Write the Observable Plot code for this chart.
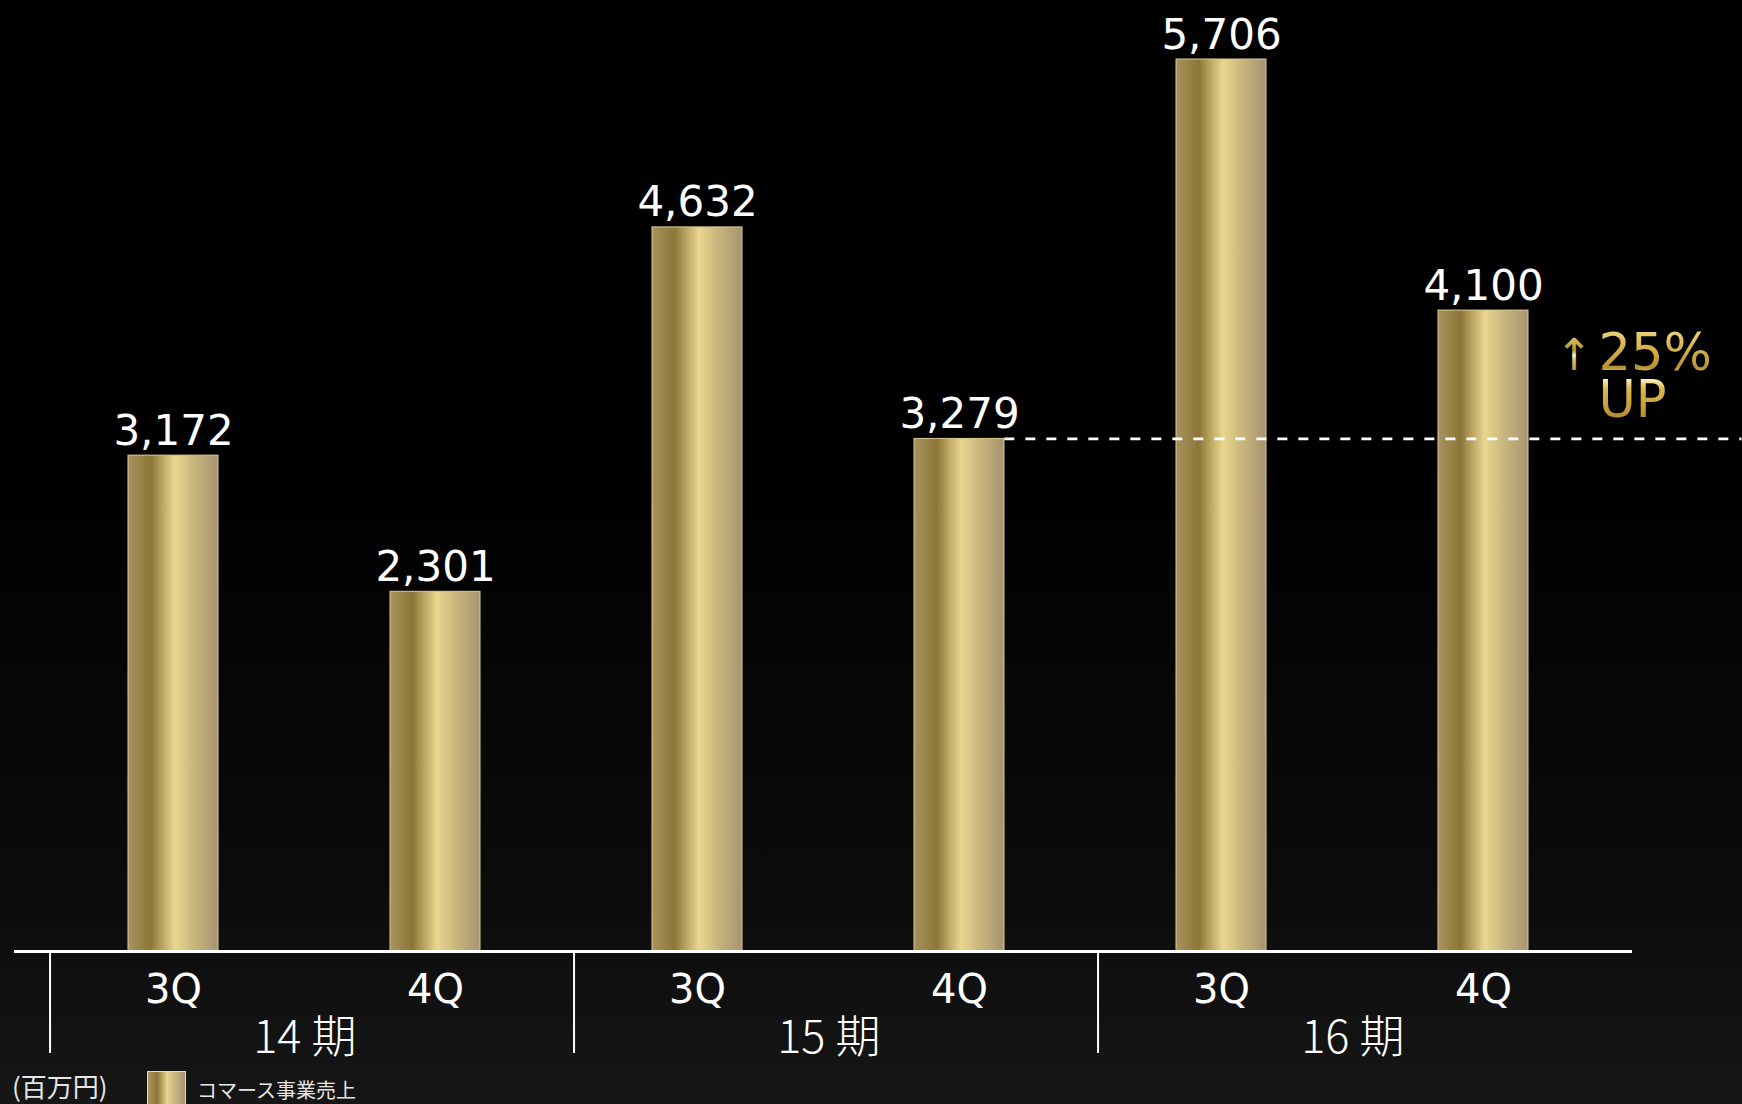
<!DOCTYPE html>
<html>
<head>
<meta charset="utf-8">
<script src="https://cdn.jsdelivr.net/npm/d3@7"></script>
<script src="https://cdn.jsdelivr.net/npm/@observablehq/plot@0.6"></script>
<style>
  html, body { margin: 0; padding: 0; }
  body {
    width: 1742px; height: 1104px; overflow: hidden;
    background: linear-gradient(to bottom, #000 0%, #000 42%, #0b0b0b 80%, #161616 100%);
  }
  #chart svg { display: block; }
  #legend { position: relative; width: 1742px; height: 42px; color: #e6e6e6; font-family: "Noto Sans CJK JP", sans-serif; }
  #legend .unit { position: absolute; left: 12px; top: 7px; font-size: 26px; line-height: 34px; }
  #legend .swatch { position: absolute; left: 147px; top: 9px; width: 37px; height: 40px; border: 1px solid #e8dcb0;
    background: linear-gradient(to right, #a8935f 0%, #8c7637 25%, #ead68f 52%, #cbb77e 72%, #a69470 100%); }
  #legend .name { position: absolute; left: 197px; top: 14px; font-size: 20px; line-height: 28px; }
</style>
</head>
<body>
<div id="chart"></div>
<div id="legend"></div>
<script>
// ---- data ----
const periods = ["14期", "15期", "16期"];
const periodLabels = ["14 期", "15 期", "16 期"];
const quarters = ["3Q", "4Q"];
const sales = [3172, 2301, 4632, 3279, 5706, 4100];
const baseKey = "15期 4Q";
const baseValue = 3279;
const growthArrow = "↑";
const growthLines = ["25%", "UP"];
const unitLabel = "(百万円)";
const seriesName = "コマース事業売上";

// ---- table ----
const rows = periods.flatMap((p, i) => quarters.map((q, j) => ({
  key: `${p} ${q}`, period: p, quarter: q, value: sales[i * quarters.length + j]
})));
const keys = rows.map(d => d.key);
const groups = periods.map((p, i) => ({ first: `${p} ${quarters[0]}`, label: periodLabels[i] }));

// ---- layout ----
const W = 1742, H = 1062, ML = 40, MR = 126, MT = 59, MB = 111;
const pIn = 0.656, pOut = pIn / 2;
const step = (W - ML - MR) / (keys.length - pIn + 2 * pOut);
const bw = step * (1 - pIn);
const baseIdx = keys.indexOf(baseKey);
const baseBandEnd = ML + step * (pOut + baseIdx) + bw;

const fmt = d3.format(",");
const numFont = "DejaVu Sans, Verdana, sans-serif";

const chart = Plot.plot({
  width: W, height: H,
  marginLeft: ML, marginRight: MR, marginTop: MT, marginBottom: MB,
  style: { background: "transparent", color: "white", overflow: "visible" },
  x: { domain: keys, paddingInner: pIn, paddingOuter: pOut, axis: null },
  y: { domain: [0, d3.max(sales)], axis: null },
  marks: [
    Plot.barY(rows, { x: "key", y: "value", fill: "url(#barGold)", stroke: "#dccb96", strokeWidth: 1 }),
    Plot.ruleY([baseValue], { x1: () => baseKey, x2: () => baseKey,
      insetLeft: bw, insetRight: -(W - baseBandEnd),
      stroke: "white", strokeWidth: 2.7, strokeDasharray: "10,11" }),
    Plot.text(rows, { x: "key", y: "value", text: d => fmt(d.value), lineAnchor: "bottom", dy: -11,
      fill: "white", fontSize: 42, fontFamily: numFont }),
    Plot.ruleY([0], { stroke: "white", strokeWidth: 3, insetLeft: -26, insetRight: -16 }),
    Plot.ruleX(groups, { x: "first", y1: () => 0, y2: () => 0, dx: -step * 0.47,
      insetTop: 2, insetBottom: -102, stroke: "white", strokeWidth: 2 }),
    Plot.axisX({ tickSize: 0, tickPadding: 23, fontSize: 40, fontFamily: numFont,
      tickFormat: d => d.split(" ")[1], color: "white", label: null }),
    Plot.text(groups, { x: "first", text: "label", frameAnchor: "bottom", dx: step / 2, dy: 87,
      lineAnchor: "middle", fill: "white", fontSize: 45, fontWeight: 300,
      fontFamily: "Noto Sans CJK JP, sans-serif" }),
    Plot.text([growthArrow], { text: d => d, y: () => baseValue, frameAnchor: "right", dx: -24, dy: -69,
      lineAnchor: "bottom", textAnchor: "end", fill: "url(#textGold)", fontSize: 44, fontFamily: numFont }),
    Plot.text([growthLines.join("\n")], { text: d => d, y: () => baseValue, frameAnchor: "right", dx: -18, dy: -22,
      lineAnchor: "bottom", textAnchor: "start", lineHeight: 0.92, fill: "url(#textGold)", fontSize: 51, fontFamily: numFont })
  ]
});

// gradients
const svg = d3.select(chart.tagName.toLowerCase() === "svg" ? chart : chart.querySelector("svg"));
const defs = svg.insert("defs", ":first-child");
const bar = defs.append("linearGradient").attr("id", "barGold").attr("x1", 0).attr("x2", 1).attr("y1", 0).attr("y2", 0);
[["0%", "#a8935f"], ["25%", "#8c7637"], ["52%", "#ead68f"], ["72%", "#cbb77e"], ["100%", "#a69470"]]
  .forEach(([o, c]) => bar.append("stop").attr("offset", o).attr("stop-color", c));
const tg = defs.append("linearGradient").attr("id", "textGold").attr("x1", 0).attr("x2", 0).attr("y1", 0).attr("y2", 1);
[["0%", "#f6df8c"], ["22%", "#d9b552"], ["42%", "#b8922e"], ["52%", "#fff6d2"], ["62%", "#dcb850"], ["100%", "#a47e22"]]
  .forEach(([o, c]) => tg.append("stop").attr("offset", o).attr("stop-color", c));

document.getElementById("chart").appendChild(chart);

// legend
const lg = d3.select("#legend");
lg.append("span").attr("class", "unit").text(unitLabel);
lg.append("span").attr("class", "swatch");
lg.append("span").attr("class", "name").text(seriesName);
</script>
</body>
</html>
